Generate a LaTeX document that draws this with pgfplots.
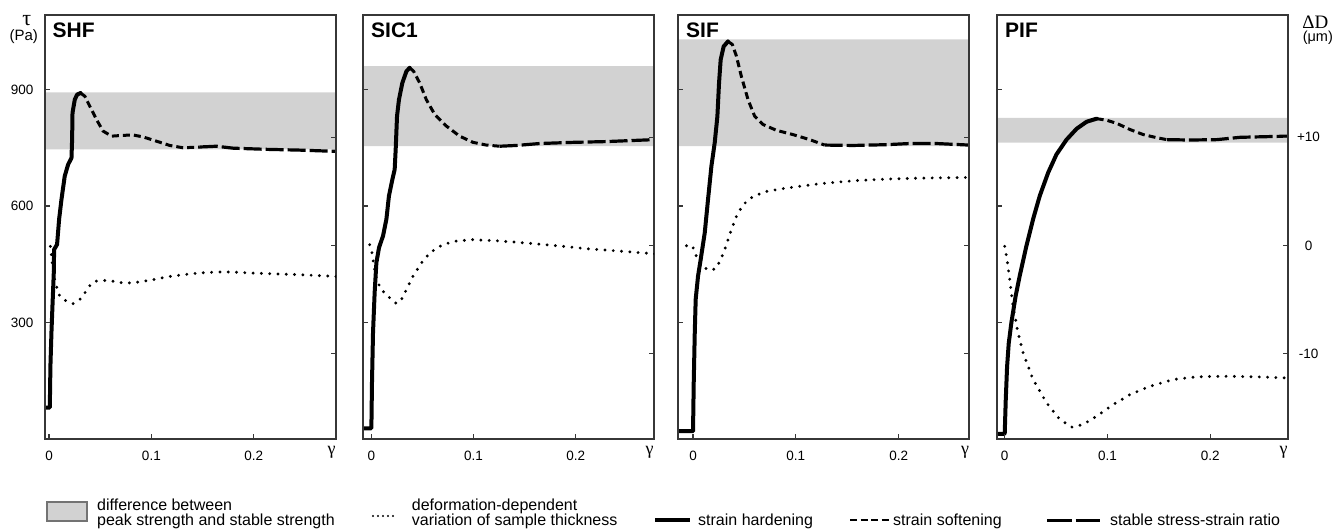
\documentclass[border=0pt]{standalone}
\usepackage{pgfplots}
\pgfplotsset{compat=1.18}
\usepackage{fontspec}
\setmainfont{Liberation Sans}
\newfontfamily\serif{Liberation Serif}
\definecolor{band}{RGB}{210,210,210}
\definecolor{frame}{RGB}{55,55,55}
\pgfplotsset{
  panel/.style={scale only axis, width=291pt, height=424pt, anchor=north west,
    ymin=0, ymax=1092, axis on top, clip mode=individual,
    axis line style={draw=frame, line width=1.3pt},
    tick style={draw=frame, line width=1.2pt},
    major tick length=5pt, tick align=inside,
    xtick={0,0.1,0.2}, xticklabels={0,0.1,0.2}, xtick pos=left,
    ytick={300,600,900}, ytick pos=left, yticklabels={},
    tick label style={font=\fontsize{13.5}{15}\selectfont, inner sep=0pt},
    xticklabel style={anchor=north, yshift=-11.5pt},
    yticklabel style={anchor=east, xshift=-11.5pt},
  },
  ddaxis/.style={scale only axis, width=291pt, height=424pt, anchor=north west,
    ymin=-17.9, ymax=21.3, axis line style={draw=none}, xtick=\empty,
    ytick={-10,0,10}, ytick pos=right, tick align=inside, yticklabels={},
    tick style={draw=frame, line width=1.2pt}, major tick length=5pt,
    tick label style={font=\fontsize{13.5}{15}\selectfont, inner sep=0pt},
  },
}
\tikzset{
  hard/.style={black, line width=4pt, line join=round, line cap=round},
  soft/.style={black, line width=3pt, line join=round, dash pattern=on 7pt off 4pt},
  stab/.style={black, line width=3.2pt, line join=round, dash pattern=on 18pt off 4pt},
  thk/.style={black, line width=3.2pt, line cap=round, dash pattern=on 0pt off 8.3pt},
  ttl/.style={anchor=north west, inner sep=0pt, font=\bfseries\fontsize{21}{24}\selectfont},
  gam/.style={anchor=north, inner sep=0pt, font=\serif\fontsize{18}{19}\selectfont},
}
\begin{document}
\begin{tikzpicture}
\path[use as bounding box] (0pt,0pt) rectangle (1341pt,-529pt);

% ---------------- Panel 1: SHF
\begin{axis}[panel, at={(45pt,-15pt)}, xmin=-0.004, xmax=0.2805, yticklabels={300,600,900}]
\addplot[fill=band, draw=none] coordinates {(-0.1,746) (0.4,746) (0.4,893) (-0.1,893) (-0.1,746)};
\addplot[hard] coordinates {(-0.01,81) (0.0007,81) (0.0013,188) (0.0023,274) (0.0033,343) (0.0046,429) (0.0049,488) (0.0078,501) (0.0098,566) (0.0121,617) (0.0153,677) (0.0186,707) (0.0219,724) (0.0225,771) (0.0229,840) (0.0251,874) (0.0274,887) (0.0307,891)};
\addplot[soft] coordinates {(0.0307,891) (0.0349,883) (0.0398,857) (0.0463,823) (0.0528,793) (0.061,780) (0.0723,782) (0.0821,783) (0.0919,778) (0.105,767) (0.118,756) (0.131,750) (0.1473,752)};
\addplot[stab] coordinates {(0.1473,752) (0.1636,754) (0.1799,749) (0.2125,746) (0.2451,744) (0.2777,741) (0.29,740)};
\node[ttl] at (rel axis cs:0,1) [xshift=7.5pt, yshift=-7.5pt] {SHF};
\node[gam] at (rel axis cs:1,0) [xshift=-4.5pt, yshift=-7pt] {γ};
\node[inner sep=0pt, font=\serif\fontsize{22}{23}\selectfont] at (rel axis cs:0,1) [xshift=-18.3pt, yshift=-6pt] {τ};
\node[inner sep=0pt, font=\fontsize{15}{16}\selectfont] at (rel axis cs:0,1) [xshift=-21.2pt, yshift=-21.5pt] {(Pa)};
\end{axis}
\begin{axis}[ddaxis, at={(45pt,-15pt)}, xmin=-0.004, xmax=0.2805]
\addplot[thk] coordinates {(0.0013,-0.09) (0.0023,-0.86) (0.0029,-1.48) (0.0049,-3.01) (0.0072,-3.78) (0.0105,-4.71) (0.017,-5.17) (0.0235,-5.38) (0.030,-5.01) (0.0349,-4.40) (0.0398,-3.72) (0.0447,-3.32) (0.0528,-3.23) (0.0626,-3.32) (0.0723,-3.47) (0.0821,-3.47) (0.0919,-3.32) (0.1017,-3.17) (0.1148,-2.92) (0.131,-2.71) (0.1473,-2.55) (0.1636,-2.46) (0.1799,-2.46) (0.1962,-2.55) (0.2125,-2.61) (0.2451,-2.71) (0.2777,-2.86) (0.29,-2.9)};
\end{axis}

% ---------------- Panel 2: SIC1
\begin{axis}[panel, at={(363pt,-15pt)}, xmin=-0.0082, xmax=0.2767]
\addplot[fill=band, draw=none] coordinates {(-0.1,754) (0.4,754) (0.4,960) (-0.1,960) (-0.1,754)};
\addplot[hard] coordinates {(-0.02,27.5) (0,27.5) (0.0006,146) (0.0016,274) (0.0032,377) (0.0049,454) (0.0075,493) (0.0114,523) (0.0147,566) (0.0172,626) (0.0206,669) (0.0228,694) (0.0238,746) (0.0251,831) (0.027,874) (0.0303,917) (0.0343,947) (0.0375,956)};
\addplot[soft] coordinates {(0.0375,956) (0.0414,947) (0.0473,917) (0.0538,874) (0.062,836) (0.0734,806) (0.0864,780) (0.0995,764) (0.1126,757) (0.1256,754)};
\addplot[stab] coordinates {(0.1256,754) (0.142,756) (0.1648,761) (0.1974,764) (0.23,766) (0.2767,771) (0.29,772)};
\node[ttl] at (rel axis cs:0,1) [xshift=8pt, yshift=-8pt] {SIC1};
\node[gam] at (rel axis cs:1,0) [xshift=-4.5pt, yshift=-7pt] {γ};
\end{axis}
\begin{axis}[ddaxis, at={(363pt,-15pt)}, xmin=-0.0082, xmax=0.2767]
\addplot[thk] coordinates {(-0.0017,0.06) (0.0006,-0.70) (0.0026,-1.94) (0.0049,-3.17) (0.0098,-4.09) (0.0163,-4.71) (0.0245,-5.38) (0.0294,-5.01) (0.0343,-4.09) (0.0407,-2.86) (0.0489,-1.63) (0.0571,-0.70) (0.0669,-0.09) (0.0799,0.37) (0.0995,0.53) (0.1256,0.41) (0.1517,0.22) (0.1811,-0.03) (0.2137,-0.33) (0.2463,-0.55) (0.2757,-0.77) (0.29,-0.85)};
\end{axis}

% ---------------- Panel 3: SIF
\begin{axis}[panel, at={(678pt,-15pt)}, xmin=-0.0146, xmax=0.2684]
\addplot[fill=band, draw=none] coordinates {(-0.1,754) (0.4,754) (0.4,1029) (-0.1,1029) (-0.1,754)};
\addplot[hard] coordinates {(-0.03,20) (0,20) (0.0007,146) (0.0017,274) (0.0026,360) (0.0049,420) (0.0075,463) (0.0114,531) (0.0146,617) (0.0179,703) (0.0211,763) (0.0237,831) (0.0253,917) (0.0269,977) (0.0298,1011) (0.034,1024)};
\addplot[soft] coordinates {(0.034,1024) (0.0383,1016) (0.0422,986) (0.047,934) (0.0535,874) (0.06,831) (0.0681,810) (0.0811,795) (0.0972,784) (0.1135,771) (0.128,757)};
\addplot[stab] coordinates {(0.128,757) (0.1556,756) (0.188,758) (0.2107,761) (0.2367,761) (0.2684,757) (0.28,757)};
\node[ttl] at (rel axis cs:0,1) [xshift=8pt, yshift=-8pt] {SIF};
\node[gam] at (rel axis cs:1,0) [xshift=-4pt, yshift=-7pt] {γ};
\end{axis}
\begin{axis}[ddaxis, at={(678pt,-15pt)}, xmin=-0.0146, xmax=0.2684]
\addplot[thk] coordinates {(-0.0064,-0.03) (-0.0006,-0.03) (0.0026,-0.86) (0.0065,-1.63) (0.0114,-2.09) (0.0179,-2.31) (0.0228,-2.09) (0.0276,-1.16) (0.0325,0.06) (0.0373,1.45) (0.0422,2.68) (0.0486,3.76) (0.0583,4.52) (0.0714,4.99) (0.0908,5.30) (0.1232,5.70) (0.1556,5.97) (0.188,6.13) (0.2204,6.22) (0.2674,6.28) (0.28,6.3)};
\end{axis}

% ---------------- Panel 4: PIF
\begin{axis}[panel, at={(997pt,-15pt)}, xmin=-0.0075, xmax=0.2758]
\addplot[fill=band, draw=none] coordinates {(-0.1,763) (0.4,763) (0.4,827) (-0.1,827) (-0.1,763)};
\addplot[hard] coordinates {(-0.02,13) (0,13) (0.001,100) (0.0023,186) (0.0039,246) (0.0065,300) (0.0107,369) (0.0146,420) (0.0211,497) (0.0276,566) (0.0341,626) (0.0423,686) (0.0504,733) (0.0602,771) (0.07,799) (0.0797,817) (0.0895,825)};
\addplot[soft] coordinates {(0.0895,825) (0.0992,821) (0.109,813) (0.122,797) (0.1349,784) (0.148,776) (0.1578,771)};
\addplot[stab] coordinates {(0.1578,771) (0.1805,770) (0.2065,771) (0.2293,777) (0.2758,780) (0.29,780)};
\node[ttl] at (rel axis cs:0,1) [xshift=8pt, yshift=-8pt] {PIF};
\node[gam] at (rel axis cs:1,0) [xshift=-4.5pt, yshift=-7pt] {γ};
\node[inner sep=0pt, font=\serif\fontsize{19}{20}\selectfont] at (rel axis cs:1,1) [xshift=27.3pt, yshift=-7pt] {ΔD};
\node[inner sep=0pt, font=\fontsize{14.5}{15}\selectfont] at (rel axis cs:1,1) [xshift=29.8pt, yshift=-22.5pt] {(μm)};
\end{axis}
\begin{axis}[ddaxis, at={(997pt,-15pt)}, xmin=-0.0075, xmax=0.2758,
  yticklabel pos=right, yticklabels={-10,0,+10},
  yticklabel style={anchor=center, xshift=20.5pt}]
\addplot[thk] coordinates {(0,-0.09) (0.0023,-1.32) (0.0049,-3.17) (0.0081,-5.63) (0.013,-8.09) (0.0179,-9.94) (0.0276,-12.4) (0.0407,-14.55) (0.0537,-16.09) (0.0651,-16.8) (0.0764,-16.56) (0.0895,-15.79) (0.1057,-14.71) (0.122,-13.79) (0.1415,-13.02) (0.1642,-12.4) (0.187,-12.15) (0.213,-12.1) (0.2456,-12.15) (0.2732,-12.25)};
\end{axis}

% ---------------- Legend
\begin{scope}[every node/.style={inner sep=0pt, anchor=base west, font=\fontsize{16}{15}\selectfont}]
\draw[fill=band, draw=black!55, line width=1.2pt] (47pt,-502pt) rectangle (87pt,-521pt);
\node at (97pt,-510pt) {difference between};
\node at (97pt,-525pt) {peak strength and stable strength};
\draw[black, line width=2.2pt, line cap=round, dash pattern=on 0pt off 5pt] (373pt,-516pt) -- (393.5pt,-516pt);
\node at (411.7pt,-510pt) {deformation-dependent};
\node at (411.7pt,-525pt) {variation of sample thickness};
\draw[black, line width=3.8pt] (655pt,-520pt) -- (690pt,-520pt);
\node at (698pt,-525pt) {strain hardening};
\draw[black, line width=2.8pt, dash pattern=on 7pt off 3.5pt] (850pt,-520pt) -- (889pt,-520pt);
\node at (893pt,-525pt) {strain softening};
\draw[black, line width=3pt, dash pattern=on 24.5pt off 4pt] (1047pt,-520pt) -- (1100pt,-520pt);
\node at (1110pt,-525pt) {stable stress-strain ratio};
\end{scope}
\end{tikzpicture}
\end{document}
